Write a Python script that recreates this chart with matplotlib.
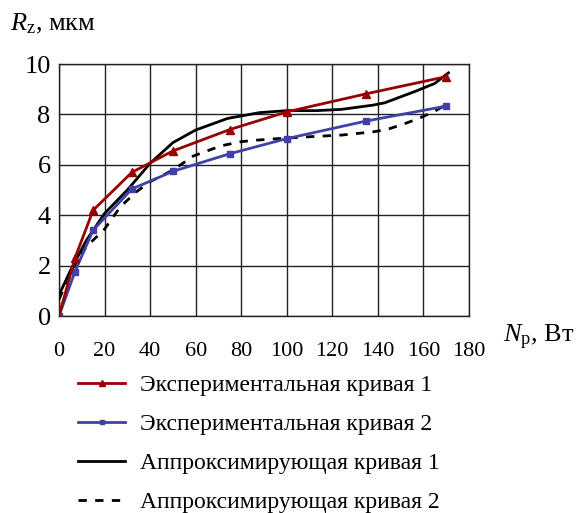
import matplotlib
matplotlib.use("Agg")
import matplotlib.pyplot as plt
from matplotlib.lines import Line2D

plt.rcParams['font.family'] = ['Liberation Serif', 'DejaVu Serif']
plt.rcParams['mathtext.fontset'] = 'custom'
plt.rcParams['mathtext.rm'] = 'Liberation Serif'
plt.rcParams['mathtext.it'] = 'Liberation Serif:italic'

# Experimental curve 1
exp1_x = [0, 7, 15, 32, 50, 75, 100, 135, 170]
exp1_y = [0, 2.3, 4.2, 5.7, 6.55, 7.4, 8.1, 8.82, 9.5]
# Experimental curve 2
exp2_x = [0, 7, 15, 32, 50, 75, 100, 135, 170]
exp2_y = [0, 1.76, 3.41, 5.04, 5.74, 6.44, 7.04, 7.74, 8.33]
# Approximating curve 1
app1_x = [0, 5, 12, 20, 30, 40, 50, 60, 74, 88, 100, 113, 124, 138, 143, 156, 165, 171]
app1_y = [0.83, 1.8, 3.0, 4.07, 5.0, 6.06, 6.88, 7.38, 7.84, 8.07, 8.15, 8.15, 8.2, 8.37, 8.46, 8.9, 9.23, 9.65]
# Approximating curve 2
app2_x = [0, 6, 12, 20, 27, 34, 40, 50, 59, 71, 80, 87, 98, 111, 124, 138, 144, 152, 158, 165, 171]
app2_y = [0.66, 1.89, 2.75, 3.45, 4.34, 4.93, 5.33, 5.79, 6.35, 6.75, 6.92, 6.98, 7.05, 7.12, 7.18, 7.31, 7.4, 7.64, 7.84, 8.13, 8.44]

labels = ["Экспериментальная кривая 1", "Экспериментальная кривая 2",
          "Аппроксимирующая кривая 1", "Аппроксимирующая кривая 2"]
x_ticks = [0, 20, 40, 60, 80, 100, 120, 140, 160, 180]
y_ticks = [0, 2, 4, 6, 8, 10]

red = "#990000"
blue = "#4040A8"
dash = (0, (3.0, 3.0))

fig = plt.figure(figsize=(5.79, 5.13), dpi=100)
ax = fig.add_axes([0.1019, 0.384, 0.708, 0.4912])

ax.plot(app2_x, app2_y, color="black", lw=2, ls=dash, zorder=3)
ax.plot(app1_x, app1_y, color="black", lw=2, zorder=4)
ax.plot(exp2_x, exp2_y, color=blue, lw=2, marker="s", ms=4.5, zorder=5)
ax.plot(exp1_x, exp1_y, color=red, lw=2, marker="^", ms=6, zorder=6)

ax.set_xlim(0, 180)
ax.set_ylim(0, 10)
ax.set_xticks(x_ticks)
ax.set_yticks(y_ticks)
ax.grid(True, color="#222222", lw=1)
for s in ax.spines.values():
    s.set_color("#222222")
    s.set_linewidth(1)
ax.tick_params(axis="both", length=0, colors="black")
ax.tick_params(axis="y", labelsize=19, pad=6)
ax.tick_params(axis="x", labelsize=16, pad=19)

fig.text(0.018, 0.953, r"$R_\mathrm{z}$, мкм", fontsize=19, ha="left", va="center")
fig.text(0.869, 0.343, r"$N_\mathrm{р}$, Вт", fontsize=19, ha="left", va="center")

handles = [
    Line2D([], [], color=red, lw=2, marker="^", ms=5),
    Line2D([], [], color=blue, lw=2, marker="s", ms=3.5),
    Line2D([], [], color="black", lw=2),
    Line2D([], [], color="black", lw=2, ls=dash),
]
leg = fig.legend(handles, labels, loc="upper left", bbox_to_anchor=(0.1347, 0.27),
                 frameon=False, fontsize=17, handlelength=2.0, handletextpad=0.63,
                 labelspacing=0.74, borderpad=0, borderaxespad=0, markerscale=1)

fig.savefig("out.png", dpi=100)
